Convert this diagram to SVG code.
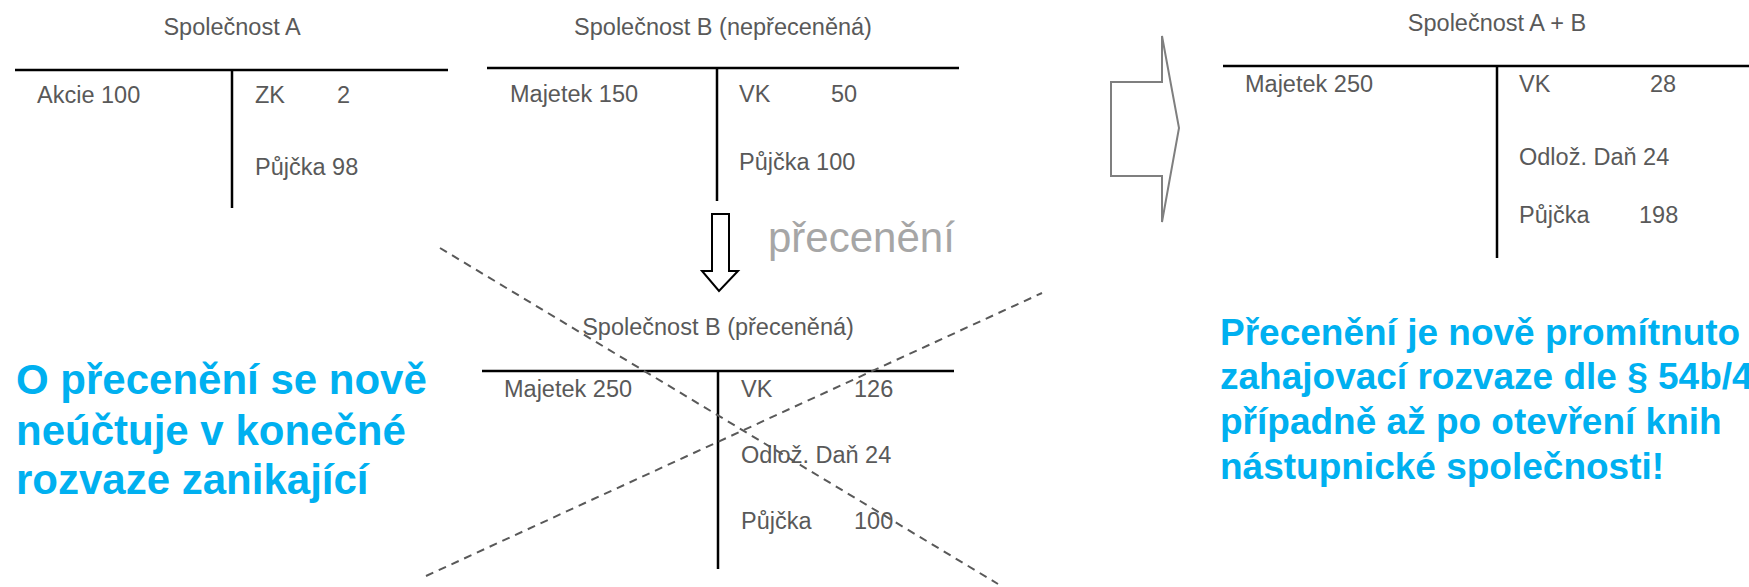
<svg xmlns="http://www.w3.org/2000/svg" width="1749" height="587" viewBox="0 0 1749 587">
<style>
.t{font-family:"Liberation Sans",Arial,sans-serif;font-size:23.5px;fill:#595959}
.c{text-anchor:middle}
.ln{stroke:#000;stroke-width:2.5;fill:none}
.blue{font-family:"Liberation Sans",Arial,sans-serif;font-weight:bold;fill:#00b0f0}
.dash{stroke:#595959;stroke-width:2;stroke-dasharray:8 6;fill:none}
</style>
<rect width="1749" height="587" fill="#fff"/>
<g id="spolecnost-a">
<text class="t c" x="232" y="35">Společnost A</text>
<path class="ln" d="M15,70H448M232,70V208"/>
<text class="t" x="37" y="103">Akcie 100</text>
<text class="t" x="255" y="103">ZK</text>
<text class="t" x="337" y="103">2</text>
<text class="t" x="255" y="175">Půjčka 98</text>
</g>
<g id="spolecnost-b-neprecenena">
<text class="t c" x="723" y="35">Společnost B (nepřeceněná)</text>
<path class="ln" d="M487,68H959M717,68V201"/>
<text class="t" x="510" y="102">Majetek 150</text>
<text class="t" x="739" y="102">VK</text>
<text class="t" x="831" y="102">50</text>
<text class="t" x="739" y="170">Půjčka 100</text>
</g>
<g id="spolecnost-b-precenena">
<text class="t c" x="718" y="335">Společnost B (přeceněná)</text>
<path class="ln" d="M482,371H954M718,371V569"/>
<text class="t" x="504" y="397">Majetek 250</text>
<text class="t" x="741" y="397">VK</text>
<text class="t" x="854" y="397">126</text>
<text class="t" x="741" y="463">Odlož. Daň 24</text>
<text class="t" x="741" y="529">Půjčka</text>
<text class="t" x="854" y="529">100</text>
</g>
<g id="spolecnost-ab">
<text class="t c" x="1497" y="31">Společnost A + B</text>
<path class="ln" d="M1223,66H1749M1497,66V258"/>
<text class="t" x="1245" y="92">Majetek 250</text>
<text class="t" x="1519" y="92">VK</text>
<text class="t" x="1650" y="92">28</text>
<text class="t" x="1519" y="165">Odlož. Daň 24</text>
<text class="t" x="1519" y="223">Půjčka</text>
<text class="t" x="1639" y="223">198</text>
</g>
<g id="connectors">
<path d="M712,214H729V271H738L719,291L702,271H712Z" fill="#fff" stroke="#000" stroke-width="2"/>
<path d="M1111,82H1162V36L1179,128L1162,222V176H1111Z" fill="#fff" stroke="#7f7f7f" stroke-width="2"/>
</g>
<g id="preceneni-label">
<text x="768" y="252" font-family="Liberation Sans, Arial, sans-serif" font-size="42" fill="#a6a6a6">přecenění</text>
</g>
<g id="cross-out">
<line class="dash" x1="440" y1="248" x2="998" y2="584"/>
<line class="dash" x1="426" y1="576" x2="1042" y2="293"/>
</g>
<g id="note-left">
<text class="blue" font-size="42" x="16" y="394">O přecenění se nově</text>
<text class="blue" font-size="42" x="16" y="445">neúčtuje v konečné</text>
<text class="blue" font-size="42" x="16" y="494">rozvaze zanikající</text>
</g>
<g id="note-right">
<text class="blue" font-size="37" x="1220" y="345">Přecenění je nově promítnuto</text>
<text class="blue" font-size="37" x="1220" y="389">zahajovací rozvaze dle § 54b/4</text>
<text class="blue" font-size="37" x="1220" y="434">případně až po otevření knih</text>
<text class="blue" font-size="37" x="1220" y="479">nástupnické společnosti!</text>
</g>
</svg>
